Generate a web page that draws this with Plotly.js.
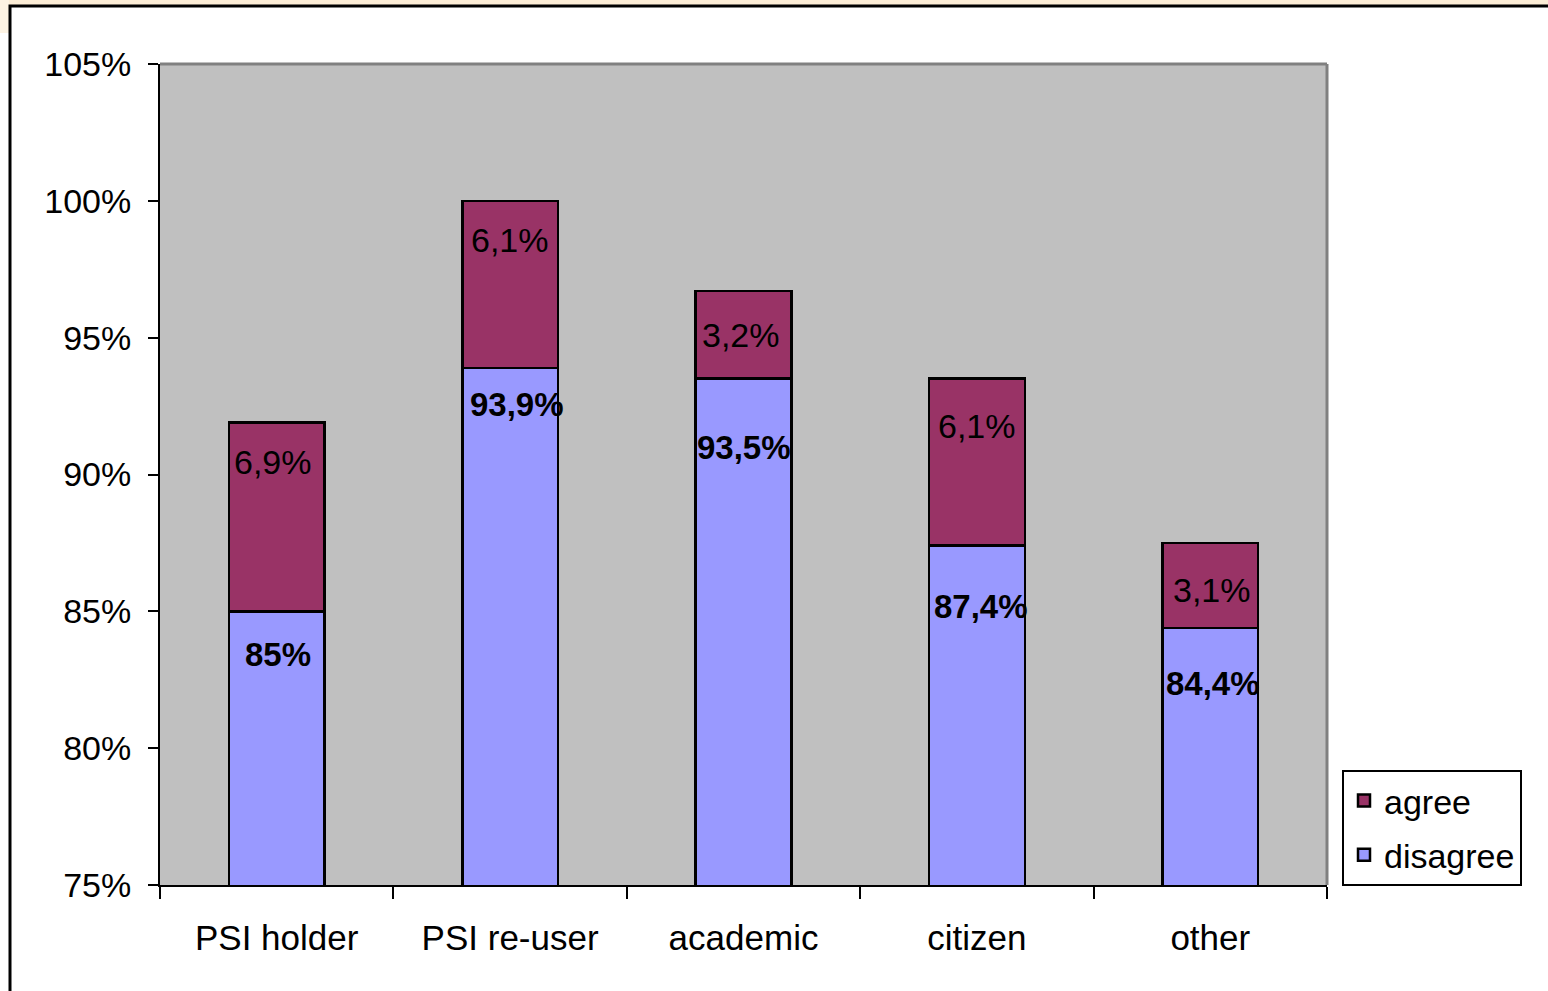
<!DOCTYPE html>
<html>
<head>
<meta charset="utf-8">
<script src="https://cdn.plot.ly/plotly-3.0.1.min.js"></script>
<style>
  html, body { margin: 0; padding: 0; background: #ffffff; }
  #chart { width: 1548px; height: 991px; }
</style>
</head>
<body>
<div id="chart"></div>
<script>
// ---- data ----
const categories = ["PSI holder", "PSI re-user", "academic", "citizen", "other"];
const disagree = [85.0, 93.9, 93.5, 87.4, 84.4];
const agree = [6.9, 6.1, 3.2, 6.1, 3.1];
const disagreeLabels = ["85%", "93,9%", "93,5%", "87,4%", "84,4%"];
const agreeLabels = ["6,9%", "6,1%", "3,2%", "6,1%", "3,1%"];

// label placement (pixels below segment top; horizontal nudges)
const agreeDrop = [39, 39, 44, 47, 47];
const agreeNudge = [-4, 0, -3, 0, 2];
const disagreeDrop = [43, 37, 69, 61, 56];
const disagreeNudge = [1, 7, 0, 4, 3];

const FONT = "Liberation Sans, Arial, sans-serif";

const traces = [
  {
    type: "bar", name: "disagree", x: categories, y: disagree,
    marker: { color: "#9999FF", line: { color: "#000000", width: 2.5 } },
    legendgroup: "d", legendrank: 2, hoverinfo: "skip"
  },
  {
    type: "bar", name: "agree", x: categories, y: agree,
    marker: { color: "#993366", line: { color: "#000000", width: 2.5 } },
    legendgroup: "a", legendrank: 1, hoverinfo: "skip"
  }
];

const annotations = [];
categories.forEach((c, i) => {
  annotations.push({
    x: c, y: disagree[i] + agree[i], xref: "x", yref: "y",
    text: agreeLabels[i], showarrow: false, yanchor: "middle",
    yshift: -agreeDrop[i], xshift: agreeNudge[i],
    font: { family: FONT, size: 34, color: "#000000" }
  });
  annotations.push({
    x: c, y: disagree[i], xref: "x", yref: "y",
    text: "<b>" + disagreeLabels[i] + "</b>", showarrow: false, yanchor: "middle",
    yshift: -disagreeDrop[i], xshift: disagreeNudge[i],
    font: { family: FONT, size: 33, color: "#000000" }
  });
});

// paper coords helpers for the outer slide frame
const L = 160, R = 1327, T = 64, B = 885;
const px = v => (v - L) / (R - L);
const py = v => (B - v) / (B - T);

const layout = {
  width: 1548, height: 991,
  margin: { l: L, r: 1548 - R, t: T, b: 991 - B, pad: 0 },
  paper_bgcolor: "#ffffff",
  plot_bgcolor: "#C0C0C0",
  barmode: "stack",
  bargap: 0.59,
  showlegend: true,
  font: { family: FONT, size: 34, color: "#000000" },
  xaxis: {
    type: "category",
    tickson: "boundaries",
    ticks: "outside", ticklen: 12, tickwidth: 2, tickcolor: "#000000",
    showline: true, linecolor: "#000000", linewidth: 2,
    showgrid: false, zeroline: false,
    ticklabelstandoff: 21,
    tickfont: { family: FONT, size: 35, color: "#000000" }
  },
  yaxis: {
    range: [75, 105], dtick: 5, tick0: 75,
    ticksuffix: "%",
    ticks: "outside", ticklen: 10, tickwidth: 2, tickcolor: "#000000",
    showline: true, linecolor: "#000000", linewidth: 2,
    showgrid: false, zeroline: false,
    ticklabelstandoff: 10,
    tickfont: { family: FONT, size: 34, color: "#000000" }
  },
  legend: {
    x: px(1342), xanchor: "left",
    y: py(886), yanchor: "bottom",
    bgcolor: "#ffffff", bordercolor: "#000000", borderwidth: 2,
    traceorder: "grouped", tracegroupgap: 7,
    font: { family: FONT, size: 34, color: "#000000" },
    itemclick: false, itemdoubleclick: false
  },
  annotations: annotations,
  shapes: [
    // cream slide background strip at top-left
    { type: "rect", xref: "paper", yref: "paper", layer: "below",
      x0: px(0), x1: px(1548), y0: py(6), y1: py(0),
      fillcolor: "#FCEDD6", line: { width: 0 } },
    { type: "rect", xref: "paper", yref: "paper", layer: "below",
      x0: px(0), x1: px(9), y0: py(33), y1: py(0),
      fillcolor: "#FDF3E3", line: { width: 0 } },
    // outer black frame
    { type: "rect", xref: "paper", yref: "paper", layer: "below",
      x0: px(10), x1: px(1600), y0: py(1050), y1: py(6),
      fillcolor: "rgba(0,0,0,0)", line: { color: "#000000", width: 3 } },
    // gray plot border top & right
    { type: "line", xref: "paper", yref: "paper", layer: "above",
      x0: 0, x1: 1, y0: 1, y1: 1, line: { color: "#808080", width: 3 } },
    { type: "line", xref: "paper", yref: "paper", layer: "above",
      x0: 1, x1: 1, y0: 0, y1: 1, line: { color: "#808080", width: 3 } }
  ]
};

Plotly.newPlot("chart", traces, layout, { staticPlot: true, displayModeBar: false });
</script>
</body>
</html>
